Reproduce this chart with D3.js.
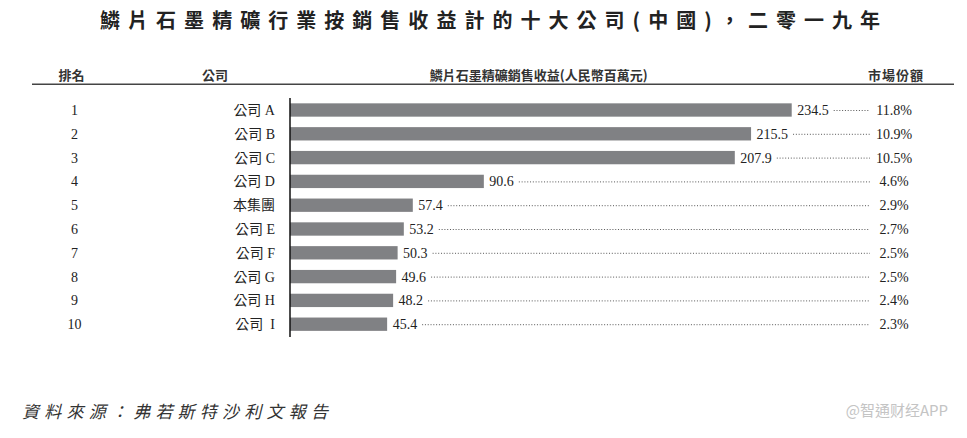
<!DOCTYPE html>
<html><head><meta charset="utf-8">
<script src="https://cdn.jsdelivr.net/npm/d3@7/dist/d3.min.js"></script>
<style>body{margin:0;background:#fff;}svg{display:block;}</style>
</head><body>
<svg id="c" width="967" height="438"></svg>
<script>
const ranks = ["1","2","3","4","5","6","7","8","9","10"];
const companies = ["公司 A","公司 B","公司 C","公司 D","本集團","公司 E","公司 F","公司 G","公司 H","公司  I"];
const revenues = [234.5,215.5,207.9,90.6,57.4,53.2,50.3,49.6,48.2,45.4];
const shares = ["11.8%","10.9%","10.5%","4.6%","2.9%","2.7%","2.5%","2.5%","2.4%","2.3%"];
const headers = ["排名","公司","鱗片石墨精礦銷售收益(人民幣百萬元)","市場份額"];
const title = "鱗片石墨精礦行業按銷售收益計的十大公司(中國)，二零一九年";
const source = "資料來源：弗若斯特沙利文報告";
const watermark = "@智通财经APP";

const svg = d3.select("#c");
const serif = "'Liberation Serif','Times New Roman','Noto Sans CJK TC',serif";
const sans = "'Noto Sans CJK TC','Noto Sans',sans-serif";

const x = d3.scaleLinear().domain([0, 250]).range([290, 290 + 250 * 2.1395]);
const y = d3.scaleBand().domain(ranks).range([98.1, 336.1]).paddingInner(0.44).paddingOuter(0.22);

// title
svg.append("text").attr("x", 100).attr("y", 21).attr("dy", "0.35em")
  .attr("textLength", 780).attr("lengthAdjust", "spacing")
  .style("font-family", sans).style("font-size", "20px").style("font-weight", "bold")
  .style("fill", "#222").text(title);

// headers
const hx = [71.5, 215, 538.7, 896];
headers.forEach((h, i) => {
  svg.append("text").attr("x", hx[i]).attr("y", 75).attr("dy", "0.35em")
    .attr("text-anchor", "middle")
    .style("font-family", sans).style("font-size", "13px").style("font-weight", "bold")
    .style("letter-spacing", i === 3 ? "1px" : "0px")
    .style("fill", "#333").text(h);
});
svg.append("line").attr("x1", 32).attr("x2", 954).attr("y1", 84.3).attr("y2", 84.3)
  .attr("stroke", "#444").attr("stroke-width", 1.6);

const rows = svg.append("g").selectAll("g").data(ranks).join("g");

// ranks
rows.append("text").attr("x", 74.5).attr("y", d => y(d) + y.bandwidth() / 2).attr("dy", "0.35em")
  .attr("text-anchor", "middle").style("font-family", serif).style("font-size", "14px")
  .style("fill", "#222").text(d => d);

// companies
rows.append("text").attr("x", 275).attr("y", d => y(d) + y.bandwidth() / 2).attr("dy", "0.35em")
  .attr("text-anchor", "end").style("font-family", serif).style("font-size", "14px")
  .style("white-space", "pre").attr("xml:space", "preserve")
  .style("fill", "#222").text((d, i) => companies[i]);

// bars
rows.append("rect").attr("x", x(0)).attr("y", d => y(d))
  .attr("width", (d, i) => x(revenues[i]) - x(0)).attr("height", y.bandwidth())
  .attr("fill", "#808184");

// value labels
const vals = rows.append("text").attr("x", (d, i) => x(revenues[i]) + 5.5)
  .attr("y", d => y(d) + y.bandwidth() / 2).attr("dy", "0.35em")
  .style("font-family", serif).style("font-size", "14px").style("fill", "#222")
  .text((d, i) => revenues[i].toFixed(1));

// dotted leaders
vals.each(function(d, i) {
  const bb = this.getBBox();
  d3.select(this.parentNode).append("line")
    .attr("x1", bb.x + bb.width + 5).attr("x2", 870)
    .attr("y1", y(d) + y.bandwidth() / 2 + 0.5).attr("y2", y(d) + y.bandwidth() / 2 + 0.5)
    .attr("stroke", "#444").attr("stroke-width", 0.9).attr("stroke-dasharray", "1,1.8");
});

// shares
rows.append("text").attr("x", 894).attr("y", d => y(d) + y.bandwidth() / 2).attr("dy", "0.35em")
  .attr("text-anchor", "middle").style("font-family", serif).style("font-size", "14px")
  .style("fill", "#222").text((d, i) => shares[i]);

// axis line
svg.append("line").attr("x1", 290).attr("x2", 290).attr("y1", 98).attr("y2", 337)
  .attr("stroke", "#111").attr("stroke-width", 1.5);

// source
svg.append("text").attr("x", 22).attr("y", 412).attr("dy", "0.35em")
  .attr("textLength", 306).attr("lengthAdjust", "spacing")
  .style("font-family", sans).style("font-size", "17px").style("font-style", "italic")
  .style("fill", "#333").text(source);

// watermark
svg.append("text").attr("x", 948).attr("y", 411).attr("dy", "0.35em").attr("text-anchor", "end")
  .style("font-family", sans).style("font-size", "15px").style("fill", "#c4c4c4")
  .text(watermark);
</script>
</body></html>
